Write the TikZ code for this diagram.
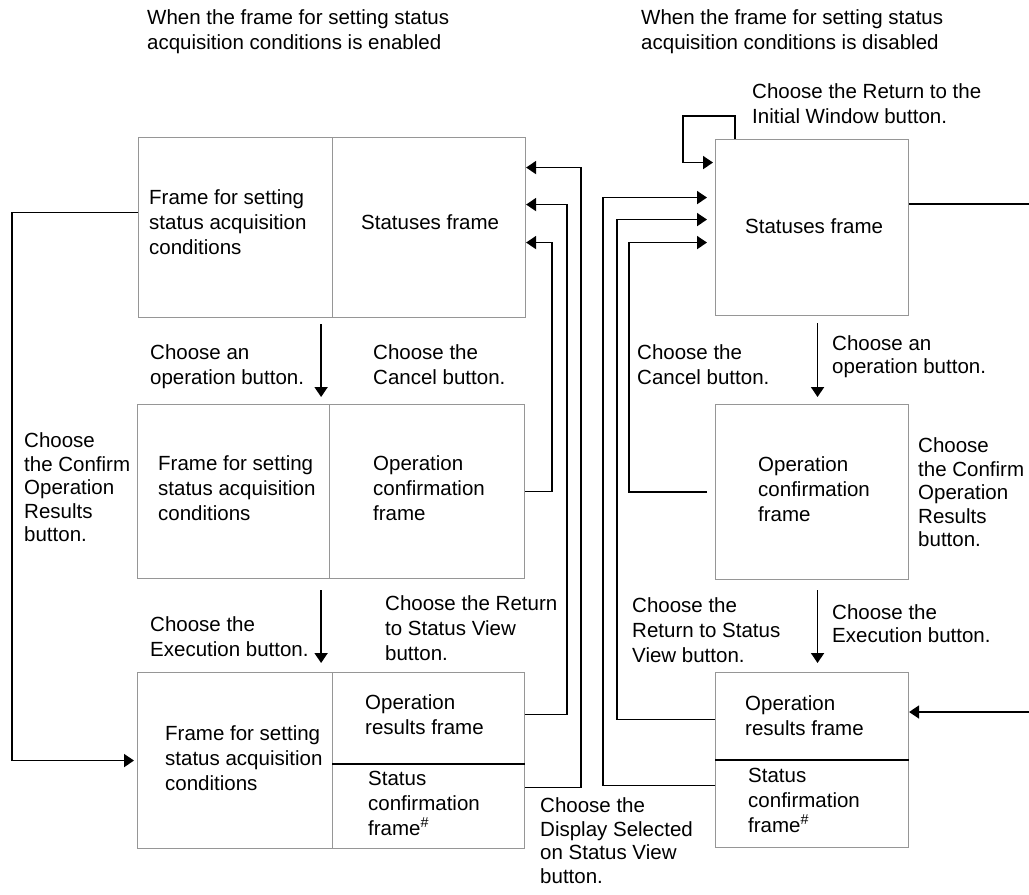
\documentclass[tikz,border=0pt]{standalone}
\usepackage{fontspec}
\setmainfont{Liberation Sans}
\usetikzlibrary{arrows.meta}
\definecolor{boxgray}{RGB}{150,150,150}
\newcommand{\lblfont}{\fontsize{20.5}{25}\selectfont}
\newcommand{\lblfontb}{\fontsize{20.5}{23.5}\selectfont}
\begin{document}
\begin{tikzpicture}[x=1pt,y=-1pt,
  box/.style={draw=boxgray,line width=1.1pt,anchor=north west,inner sep=0pt},
  conn/.style={line width=1.8pt,black},
  arr/.style={conn,-{Triangle[length=10pt,width=13pt]}},
  txt/.style={anchor=west,align=left,inner sep=0pt,font=\lblfont,
    execute at begin node=\strut,execute at end node=\strut},
  txtb/.style={txt,font=\lblfontb}]
\useasboundingbox[fill=white] (0,0) rectangle (1029,895);

% ---- left column boxes
\node[box,minimum width=194pt,minimum height=180pt] (b1a) at (138,137) {};
\node[box,minimum width=193pt,minimum height=180pt] (b1b) at (332,137) {};
\node[box,minimum width=192pt,minimum height=174pt] (b2a) at (137,404) {};
\node[box,minimum width=195pt,minimum height=174pt] (b2b) at (329,404) {};
\node[box,minimum width=195pt,minimum height=176pt] (b3a) at (137,672) {};
\node[box,minimum width=192pt,minimum height=91pt] (b3b) at (332,672) {};
\node[box,minimum width=192pt,minimum height=85pt] (b3c) at (332,763) {};
\draw[conn] (b3b.south west) -- (b3b.south east);

% ---- right column boxes
\node[box,minimum width=193pt,minimum height=176pt] (r1) at (715,139) {};
\node[box,minimum width=193pt,minimum height=175pt] (r2) at (715,404) {};
\node[box,minimum width=193pt,minimum height=87pt] (r3a) at (715,672) {};
\node[box,minimum width=193pt,minimum height=88pt] (r3b) at (715,759) {};
\draw[conn] (r3a.south west) -- (r3a.south east);

% ---- texts
\node[txt] (hdL) at (147,33) {When the frame for setting status\\acquisition conditions is enabled};
\node[txt] (hdR) at (641,33) {When the frame for setting status\\acquisition conditions is disabled};
\node[txt] (tRet) at (752,107) {Choose the Return to the\\Initial Window button.};
\node[txt] (t1a) at (149,226) {Frame for setting\\status acquisition\\conditions};
\node[txt] (t1b) at (361,224) {Statuses frame};
\node[txt] (tOp1) at (150,368) {Choose an\\operation button.};
\node[txt] (tCan1) at (373,368) {Choose the\\Cancel button.};
\node[txt] (t2a) at (158,492) {Frame for setting\\status acquisition\\conditions};
\node[txt] (t2b) at (373,492) {Operation\\confirmation\\frame};
\node[txtb] (tConfL) at (24,491) {Choose\\the Confirm\\Operation\\Results\\button.};
\node[txt] (tEx1) at (150,640) {Choose the\\Execution button.};
\node[txt] (tRet1) at (385,632) {Choose the Return\\to Status View\\button.};
\node[txt] (t3a) at (165,762) {Frame for setting\\status acquisition\\conditions};
\node[txt] (t3b) at (365,718) {Operation\\results frame};
\node[txt] (t3c) at (368,807) {Status\\confirmation\\frame\textsuperscript{\#}};
\node[txtb] (tDisp) at (540,844) {Choose the\\Display Selected\\on Status View\\button.};
\node[txt] (tr1) at (745,228) {Statuses frame};
\node[txtb] (tOpR) at (832,358) {Choose an\\operation button.};
\node[txt] (tCanR) at (637,368) {Choose the\\Cancel button.};
\node[txt] (tr2) at (758,493) {Operation\\confirmation\\frame};
\node[txtb] (tConfR) at (918,496) {Choose\\the Confirm\\Operation\\Results\\button.};
\node[txtb] (tExR) at (832,627) {Choose the\\Execution button.};
\node[txt] (tRetR) at (632,634) {Choose the\\Return to Status\\View button.};
\node[txt] (tr3a) at (745,719) {Operation\\results frame};
\node[txt] (tr3b) at (748,804) {Status\\confirmation\\frame\textsuperscript{\#}};

% ---- left connectors
\draw[arr] ([xshift=-12pt,yshift=-6pt]b1a.south east) -- ([xshift=-9pt,yshift=7pt]b2a.north east);
\draw[arr] ([xshift=-9pt,yshift=-11pt]b2a.south east) -- ([xshift=-12pt,yshift=9pt]b3a.north east);
\draw[arr] (b2b.east) -- ++(27,0) |- ([yshift=-15pt]b1b.east);
\draw[arr] ([yshift=3.5pt]b3b.east) -- ++(42,0) |- ([yshift=23pt]b1b.east);
\draw[arr] ([yshift=18.5pt]b3c.east) -- ++(56,0) |- ([yshift=60pt]b1b.east);
\draw[arr] ([yshift=15pt]b1a.west) -- ++(-126,0) |- ([xshift=-3pt]b3a.west);

% ---- right connectors
\draw[arr] ([xshift=5.5pt,yshift=-7pt]r1.south) -- ([xshift=5.5pt,yshift=7pt]r2.north);
\draw[arr] ([xshift=5.5pt,yshift=-10pt]r2.south) -- ([xshift=5.5pt,yshift=9pt]r3a.north);
\draw[arr] ([xshift=20pt]r1.north west) -- ++(0,-23) -- ++(-52,0) |- ([xshift=-2pt,yshift=65pt]r1.west);
\draw[arr] ([xshift=-8pt]r2.west) -- ++(-78,0) |- ([xshift=-8pt,yshift=-15pt]r1.west);
\draw[arr] ([yshift=-3.5pt]r3a.west) -- ++(-98,0) |- ([xshift=-8pt,yshift=8pt]r1.west);
\draw[arr] ([yshift=18pt]r3b.west) -- ++(-112,0) |- ([xshift=-8pt,yshift=30pt]r1.west);
\coordinate (edgeA) at (1029,204);
\coordinate (edgeB) at (1029,712);
\draw[conn] (r1.east |- edgeA) -- (edgeA);
\draw[arr] (edgeB) -- (r3a.east |- edgeB);
\end{tikzpicture}
\end{document}
